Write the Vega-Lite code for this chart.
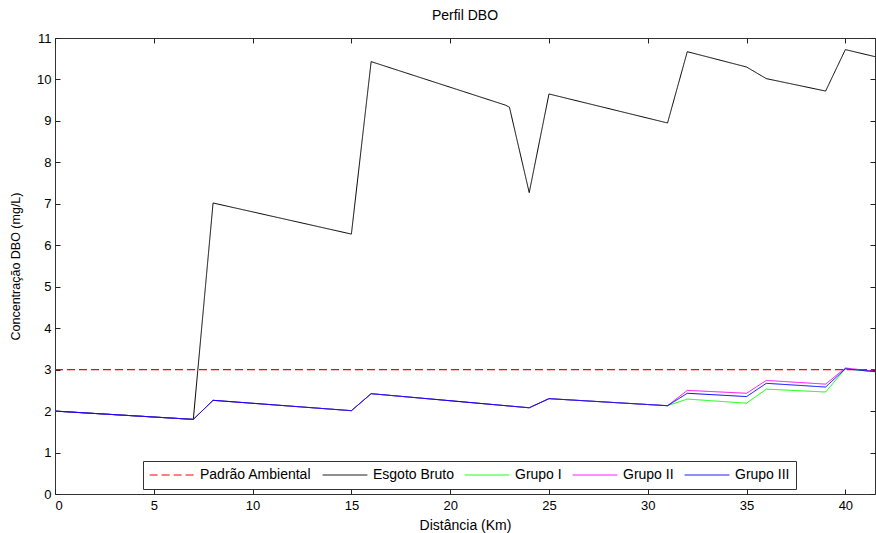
{
  "$schema": "https://vega.github.io/schema/vega-lite/v6.json",
  "width": 820,
  "height": 456,
  "autosize": {"type": "none"},
  "padding": {"left": 55, "top": 38, "right": 1, "bottom": 39},
  "background": "white",
  "title": {"text": "Perfil DBO", "fontSize": 14, "fontWeight": "normal", "font": "Liberation Sans", "color": "#000", "offset": 9},
  "config": {
    "view": {"stroke": "#333", "strokeWidth": 1},
    "axis": {
      "grid": false,
      "domain": false,
      "tickColor": "#222",
      "tickSize": -5,
      "labelFont": "Liberation Sans",
      "labelFontSize": 13,
      "labelColor": "#000",
      "titleFont": "Liberation Sans",
      "titleFontSize": 14,
      "titleFontWeight": "normal",
      "titleColor": "#000"
    },
    "legend": {
      "orient": "none",
      "direction": "horizontal",
      "legendX": 88,
      "legendY": 423,
      "symbolType": "stroke",
      "symbolSize": 2000,
      "symbolStrokeWidth": 1,
      "clipHeight": 16,
      "labelFont": "Liberation Sans",
      "labelFontSize": 14,
      "labelColor": "#000",
      "labelOffset": 5,
      "columnPadding": 10,
      "strokeColor": "#333",
      "fillColor": "white",
      "padding": 6
    }
  },
  "data": {
    "values": [
      {"km": 0, "valor": 3, "serie": "Padrão Ambiental"},
      {"km": 41.5, "valor": 3, "serie": "Padrão Ambiental"},
      {"km": 0, "valor": 2.0, "serie": "Esgoto Bruto"},
      {"km": 7, "valor": 1.8, "serie": "Esgoto Bruto"},
      {"km": 8, "valor": 7.02, "serie": "Esgoto Bruto"},
      {"km": 15, "valor": 6.27, "serie": "Esgoto Bruto"},
      {"km": 16, "valor": 10.43, "serie": "Esgoto Bruto"},
      {"km": 22.8, "valor": 9.38, "serie": "Esgoto Bruto"},
      {"km": 23, "valor": 9.33, "serie": "Esgoto Bruto"},
      {"km": 24, "valor": 7.27, "serie": "Esgoto Bruto"},
      {"km": 25, "valor": 9.65, "serie": "Esgoto Bruto"},
      {"km": 31, "valor": 8.95, "serie": "Esgoto Bruto"},
      {"km": 32, "valor": 10.67, "serie": "Esgoto Bruto"},
      {"km": 35, "valor": 10.3, "serie": "Esgoto Bruto"},
      {"km": 36, "valor": 10.02, "serie": "Esgoto Bruto"},
      {"km": 39, "valor": 9.72, "serie": "Esgoto Bruto"},
      {"km": 40, "valor": 10.72, "serie": "Esgoto Bruto"},
      {"km": 41.5, "valor": 10.55, "serie": "Esgoto Bruto"},
      {"km": 0, "valor": 2.0, "serie": "Grupo I"},
      {"km": 7, "valor": 1.8, "serie": "Grupo I"},
      {"km": 8, "valor": 2.26, "serie": "Grupo I"},
      {"km": 15, "valor": 2.01, "serie": "Grupo I"},
      {"km": 16, "valor": 2.42, "serie": "Grupo I"},
      {"km": 24, "valor": 2.08, "serie": "Grupo I"},
      {"km": 25, "valor": 2.3, "serie": "Grupo I"},
      {"km": 31, "valor": 2.13, "serie": "Grupo I"},
      {"km": 32, "valor": 2.29, "serie": "Grupo I"},
      {"km": 35, "valor": 2.19, "serie": "Grupo I"},
      {"km": 36, "valor": 2.53, "serie": "Grupo I"},
      {"km": 39, "valor": 2.46, "serie": "Grupo I"},
      {"km": 40, "valor": 3.02, "serie": "Grupo I"},
      {"km": 41.5, "valor": 2.95, "serie": "Grupo I"},
      {"km": 0, "valor": 2.0, "serie": "Grupo II"},
      {"km": 7, "valor": 1.8, "serie": "Grupo II"},
      {"km": 8, "valor": 2.26, "serie": "Grupo II"},
      {"km": 15, "valor": 2.01, "serie": "Grupo II"},
      {"km": 16, "valor": 2.42, "serie": "Grupo II"},
      {"km": 24, "valor": 2.08, "serie": "Grupo II"},
      {"km": 25, "valor": 2.3, "serie": "Grupo II"},
      {"km": 31, "valor": 2.13, "serie": "Grupo II"},
      {"km": 32, "valor": 2.5, "serie": "Grupo II"},
      {"km": 35, "valor": 2.43, "serie": "Grupo II"},
      {"km": 36, "valor": 2.74, "serie": "Grupo II"},
      {"km": 39, "valor": 2.65, "serie": "Grupo II"},
      {"km": 40, "valor": 3.04, "serie": "Grupo II"},
      {"km": 41.5, "valor": 2.96, "serie": "Grupo II"},
      {"km": 0, "valor": 2.0, "serie": "Grupo III"},
      {"km": 7, "valor": 1.8, "serie": "Grupo III"},
      {"km": 8, "valor": 2.26, "serie": "Grupo III"},
      {"km": 15, "valor": 2.01, "serie": "Grupo III"},
      {"km": 16, "valor": 2.42, "serie": "Grupo III"},
      {"km": 24, "valor": 2.08, "serie": "Grupo III"},
      {"km": 25, "valor": 2.3, "serie": "Grupo III"},
      {"km": 31, "valor": 2.13, "serie": "Grupo III"},
      {"km": 32, "valor": 2.43, "serie": "Grupo III"},
      {"km": 35, "valor": 2.35, "serie": "Grupo III"},
      {"km": 36, "valor": 2.67, "serie": "Grupo III"},
      {"km": 39, "valor": 2.58, "serie": "Grupo III"},
      {"km": 40, "valor": 3.02, "serie": "Grupo III"},
      {"km": 41.5, "valor": 2.95, "serie": "Grupo III"}
    ]
  },
  "resolve": {"axis": {"x": "independent", "y": "independent"}},
  "encoding": {
    "color": {
      "field": "serie", "type": "nominal",
      "scale": {
        "domain": ["Padrão Ambiental", "Esgoto Bruto", "Grupo I", "Grupo II", "Grupo III"],
        "range": ["#ff0000", "#000000", "#00ff00", "#ff00ff", "#0000ff"]
      },
      "legend": {"title": null}
    },
    "strokeDash": {
      "field": "serie", "type": "nominal",
      "scale": {
        "domain": ["Padrão Ambiental", "Esgoto Bruto", "Grupo I", "Grupo II", "Grupo III"],
        "range": [[8, 4], [1, 0], [1, 0], [1, 0], [1, 0]]
      },
      "legend": {"title": null}
    }
  },
  "layer": [
    {
      "transform": [{"filter": "datum.serie === 'Padrão Ambiental'"}],
      "mark": {"type": "line", "clip": true, "strokeWidth": 1.3},
      "encoding": {
        "x": {
          "field": "km", "type": "quantitative",
          "scale": {"domain": [0, 41.5], "nice": false, "zero": false},
          "axis": {"title": "Distância (Km)", "values": [0, 5, 10, 15, 20, 25, 30, 35, 40], "labelPadding": 10, "titlePadding": 6}
        },
        "y": {
          "field": "valor", "type": "quantitative",
          "scale": {"domain": [0, 11], "nice": false},
          "axis": {"title": "Concentração DBO (mg/L)", "values": [0, 1, 2, 3, 4, 5, 6, 7, 8, 9, 10, 11], "labelPadding": 9, "titlePadding": 14, "titleFontSize": 12.5}
        }
      }
    },
    {
      "transform": [{"filter": "datum.serie !== 'Padrão Ambiental'"}],
      "mark": {"type": "line", "clip": true, "strokeWidth": 1},
      "encoding": {
        "x": {
          "field": "km", "type": "quantitative",
          "axis": {"orient": "top", "labels": false, "title": null, "values": [0, 5, 10, 15, 20, 25, 30, 35, 40]}
        },
        "y": {
          "field": "valor", "type": "quantitative",
          "axis": {"orient": "right", "labels": false, "title": null, "values": [0, 1, 2, 3, 4, 5, 6, 7, 8, 9, 10, 11]}
        }
      }
    }
  ]
}
